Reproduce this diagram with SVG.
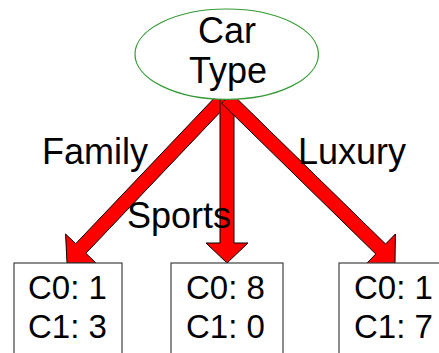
<svg xmlns="http://www.w3.org/2000/svg" width="439" height="353" viewBox="0 0 439 353">
<style>
.arrow{fill:#ff0000;stroke:#000;stroke-width:1;stroke-linejoin:miter}
.lbl{font-family:"Liberation Sans",Arial,sans-serif;font-size:36px;fill:#000}
.box{fill:#fff;stroke:#404040;stroke-width:1.2}
.val{font-family:"Liberation Sans",Arial,sans-serif;font-size:33px;fill:#000}
</style>
<rect width="439" height="353" fill="#fff"/>
<g id="connectors">
<polygon class="arrow" points="218.63,93.47 75.72,243.68 65.58,234.04 67,263 96,263 85.86,253.34 228.77,103.13"/>
<polygon class="arrow" points="220,97 220,243 206,243 227,263 248,243 234,243 234,97"/>
<polygon class="arrow" points="221.71,103.3 375.81,254.02 366.02,264 395,263 395.38,234.01 385.59,244.02 231.49,93.3"/>
</g>
<g id="edge-labels">
<text class="lbl" x="42" y="164">Family</text>
<text class="lbl" x="127" y="228">Sports</text>
<text class="lbl" x="298" y="164">Luxury</text>
</g>
<g id="car-type">
<ellipse cx="226.7" cy="54.2" rx="91.7" ry="45.2" fill="#fff" stroke="#339933" stroke-width="1.2"/>
<text class="lbl" x="227" y="43" text-anchor="middle">Car</text>
<text class="lbl" x="228" y="83" text-anchor="middle">Type</text>
</g>
<g id="family-leaf">
<rect class="box" x="14" y="263" width="108" height="100"/>
<text class="val" x="28" y="299">C0: 1</text>
<text class="val" x="28" y="338">C1: 3</text>
</g>
<g id="sports-leaf">
<rect class="box" x="171" y="263" width="112" height="100"/>
<text class="val" x="186" y="299">C0: 8</text>
<text class="val" x="186" y="338">C1: 0</text>
</g>
<g id="luxury-leaf">
<rect class="box" x="339" y="263" width="120" height="100"/>
<text class="val" x="354" y="299">C0: 1</text>
<text class="val" x="354" y="338">C1: 7</text>
</g>
</svg>
